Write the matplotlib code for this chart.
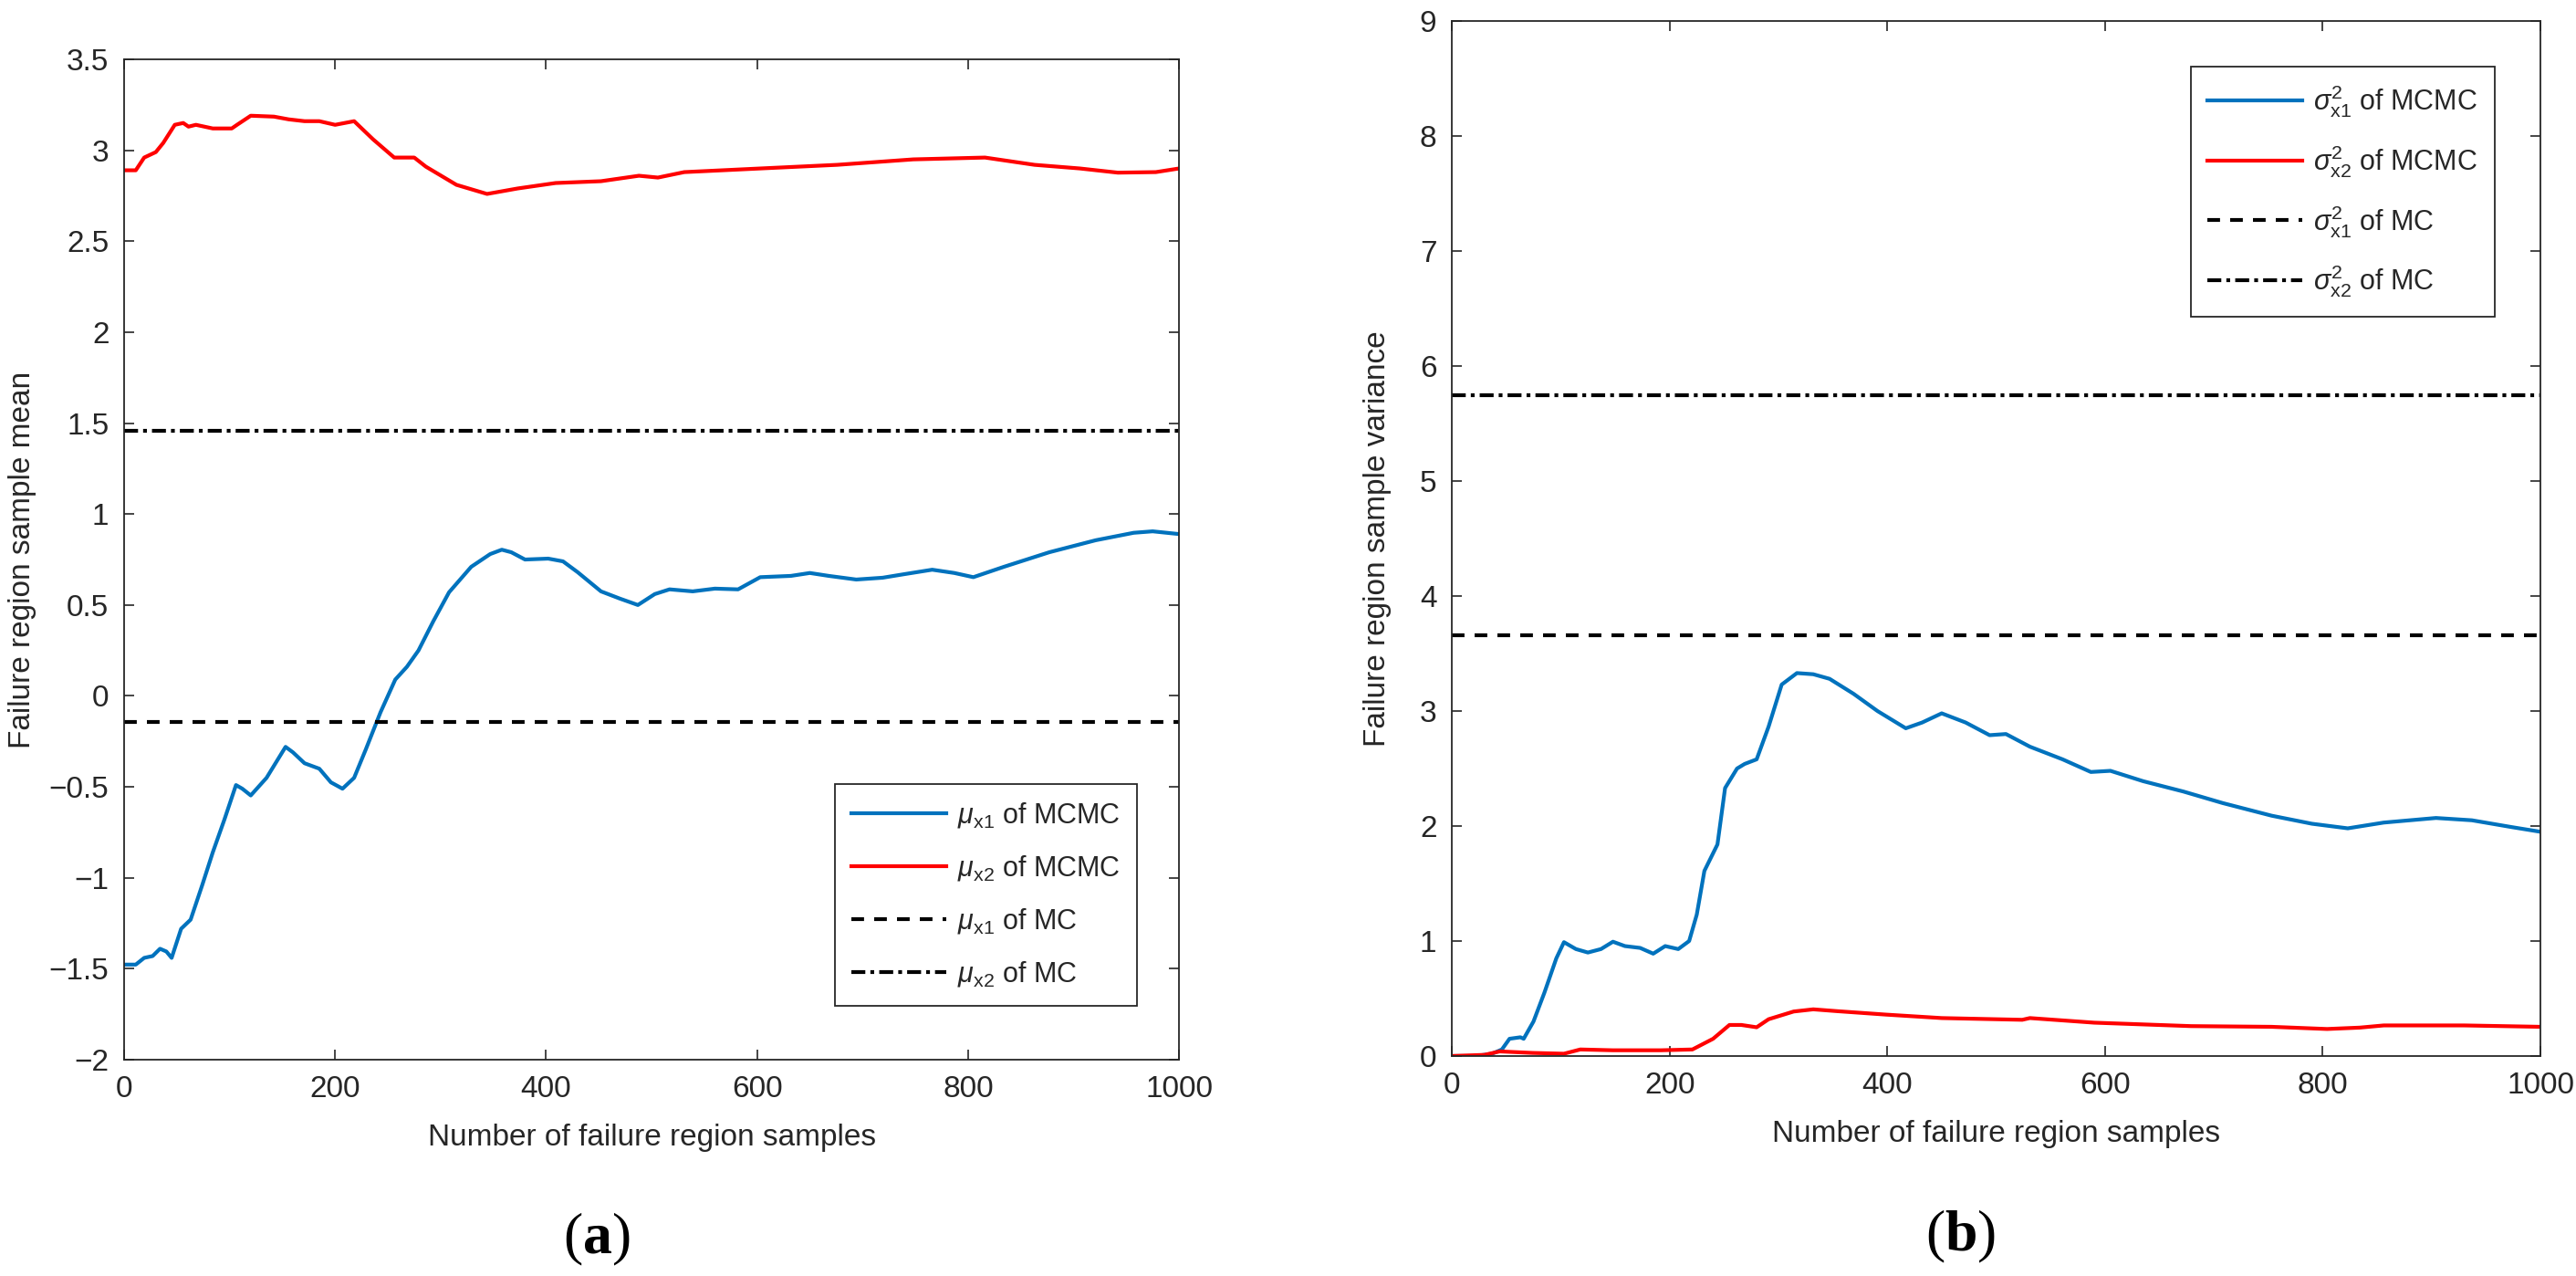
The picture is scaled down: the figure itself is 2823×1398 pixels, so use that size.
import matplotlib
matplotlib.use('Agg')
import matplotlib.pyplot as plt
from matplotlib.ticker import FuncFormatter, MultipleLocator

# ---- panel (a): sample mean ----
mu1_x = [0, 11, 19, 27, 34, 40, 45, 54, 63, 74, 84, 95, 106, 112, 120, 135, 153, 160, 171, 185,
         196, 207, 218, 229, 243, 257, 268, 279, 293, 308, 329, 347, 358, 367, 380, 402, 416, 430,
         452, 470, 487, 503, 517, 539, 560, 582, 603, 632, 650, 668, 694, 719, 740, 766, 787, 805,
         834, 877, 921, 957, 975, 1000]
mu1_y = [-1.477, -1.477, -1.44, -1.43, -1.39, -1.405, -1.44, -1.28, -1.23, -1.04, -0.86, -0.68,
         -0.49, -0.51, -0.547, -0.45, -0.28, -0.31, -0.37, -0.40, -0.475, -0.51, -0.45, -0.295,
         -0.09, 0.09, 0.16, 0.25, 0.41, 0.57, 0.71, 0.78, 0.804, 0.79, 0.75, 0.755, 0.74, 0.68,
         0.575, 0.535, 0.50, 0.56, 0.586, 0.575, 0.59, 0.586, 0.653, 0.66, 0.676, 0.66, 0.64,
         0.65, 0.67, 0.694, 0.676, 0.653, 0.71, 0.79, 0.856, 0.897, 0.905, 0.89]
mu2_x = [0, 11, 19, 30, 37, 48, 56, 61, 68, 84, 102, 107, 120, 142, 156, 171, 185, 200, 218, 236,
         256, 275, 286, 315, 344, 373, 409, 452, 488, 506, 531, 603, 676, 748, 816, 863, 906, 942,
         978, 1000]
mu2_y = [2.89, 2.89, 2.96, 2.99, 3.04, 3.14, 3.15, 3.13, 3.14, 3.12, 3.12, 3.14, 3.19, 3.185,
         3.17, 3.16, 3.16, 3.14, 3.16, 3.06, 2.96, 2.96, 2.91, 2.81, 2.76, 2.79, 2.82, 2.83,
         2.86, 2.85, 2.88, 2.90, 2.92, 2.95, 2.96, 2.92, 2.90, 2.877, 2.88, 2.90]
mu1_mc = -0.145
mu2_mc = 1.46

# ---- panel (b): sample variance ----
var1_x = [0, 22, 37, 46, 53, 63, 66, 75, 85, 96, 103, 114, 125, 137, 148, 159, 173, 185, 196,
          208, 218, 225, 232, 244, 251, 262, 269, 280, 291, 303, 317, 332, 347, 369, 391, 417,
          432, 450, 472, 494, 509, 531, 561, 587, 605, 635, 672, 708, 753, 790, 823, 856, 904,
          937, 974, 1000]
var1_y = [0, 0, 0.02, 0.057, 0.15, 0.163, 0.15, 0.30, 0.55, 0.85, 0.99, 0.93, 0.90, 0.93, 0.994,
          0.956, 0.94, 0.89, 0.956, 0.93, 1.0, 1.23, 1.61, 1.84, 2.33, 2.50, 2.54, 2.58, 2.865,
          3.23, 3.33, 3.32, 3.28, 3.15, 3.0, 2.85, 2.90, 2.98, 2.90, 2.79, 2.80, 2.69, 2.58,
          2.47, 2.48, 2.39, 2.30, 2.20, 2.09, 2.02, 1.98, 2.03, 2.07, 2.05, 1.99, 1.95]
var2_x = [0, 30, 44, 74, 103, 118, 148, 192, 221, 240, 255, 266, 280, 291, 314, 332, 354, 399,
          450, 524, 531, 590, 679, 753, 804, 834, 856, 930, 1000]
var2_y = [0, 0.01, 0.04, 0.027, 0.02, 0.057, 0.05, 0.05, 0.057, 0.15, 0.27, 0.27, 0.25, 0.32,
          0.387, 0.406, 0.39, 0.36, 0.33, 0.315, 0.33, 0.29, 0.26, 0.254, 0.235, 0.247, 0.266,
          0.266, 0.254]
var1_mc = 3.66
var2_mc = 5.75

BLUE = '#0072BD'
RED = '#FF0000'
GREY = '#262626'

plt.rcParams['font.family'] = ['Liberation Sans', 'DejaVu Sans']
plt.rcParams['mathtext.fontset'] = 'custom'
plt.rcParams['mathtext.rm'] = 'Liberation Sans'
plt.rcParams['mathtext.it'] = 'Liberation Sans:italic'
# bold math only used for the (a)/(b) panel tags
plt.rcParams['mathtext.bf'] = 'Liberation Serif:bold'
plt.rcParams['lines.scale_dashes'] = False

fmt = FuncFormatter(lambda v, p: ('%g' % v).replace('-', '\u2212'))

fig = plt.figure(figsize=(28.23, 13.98), dpi=100)
ax1 = fig.add_axes([0.0482, 0.1695, 0.4095, 0.784])
ax2 = fig.add_axes([0.5636, 0.1724, 0.4226, 0.8111])


def style(ax):
    ax.set_xlim(0, 1000)
    ax.xaxis.set_major_locator(MultipleLocator(200))
    ax.yaxis.set_major_formatter(fmt)
    ax.tick_params(direction='in', top=True, right=True, length=8, width=1.2,
                   labelsize=24, colors=GREY, pad=12)
    for s in ax.spines.values():
        s.set_color(GREY)
        s.set_linewidth(1.3)
    ax.set_xlabel('Number of failure region samples', fontsize=24, color=GREY, labelpad=16)


dash = (10, 8)
dashdot = (11, 4, 3, 4)

ax1.plot(mu1_x, mu1_y, color=BLUE, lw=3, label=r'$\mu_{\rm x1}$ of MCMC')
ax1.plot(mu2_x, mu2_y, color=RED, lw=3, label=r'$\mu_{\rm x2}$ of MCMC')
ax1.axhline(mu1_mc, color='black', lw=3, dashes=dash, label=r'$\mu_{\rm x1}$ of MC')
ax1.axhline(mu2_mc, color='black', lw=3, dashes=dashdot, label=r'$\mu_{\rm x2}$ of MC')
ax1.set_ylim(-2, 3.5)
ax1.yaxis.set_major_locator(MultipleLocator(0.5))
style(ax1)
ax1.set_ylabel('Failure region sample mean', fontsize=24, color=GREY, labelpad=10)

ax2.plot(var1_x, var1_y, color=BLUE, lw=3, label=r'$\sigma^2_{\rm x1}$ of MCMC')
ax2.plot(var2_x, var2_y, color=RED, lw=3, label=r'$\sigma^2_{\rm x2}$ of MCMC')
ax2.axhline(var1_mc, color='black', lw=3, dashes=dash, label=r'$\sigma^2_{\rm x1}$ of MC')
ax2.axhline(var2_mc, color='black', lw=3, dashes=dashdot, label=r'$\sigma^2_{\rm x2}$ of MC')
ax2.set_ylim(0, 9)
ax2.yaxis.set_major_locator(MultipleLocator(1))
style(ax2)
ax2.set_ylabel('Failure region sample variance', fontsize=24, color=GREY, labelpad=22)

for ax, anchor in [(ax1, (0.324, 0.3856)), (ax2, (0.8505, 0.9478))]:
    leg = ax.legend(loc='upper left', bbox_to_anchor=anchor, bbox_transform=fig.transFigure,
                    fontsize=22, fancybox=False, framealpha=1, edgecolor=GREY,
                    handlelength=3.4, handletextpad=0.4, labelspacing=0.85,
                    borderpad=0.6, borderaxespad=0)
    leg.get_frame().set_linewidth(1.3)
    for t in leg.get_texts():
        t.set_color(GREY)

serif = ['Liberation Serif', 'DejaVu Serif']
fig.text(0.2315, 0.029, r'($\mathbf{a}$)', ha='center', va='center', fontsize=46, family=serif)
fig.text(0.761, 0.031, r'($\mathbf{b}$)', ha='center', va='center', fontsize=46, family=serif)

fig.savefig('out.png', dpi=100)
